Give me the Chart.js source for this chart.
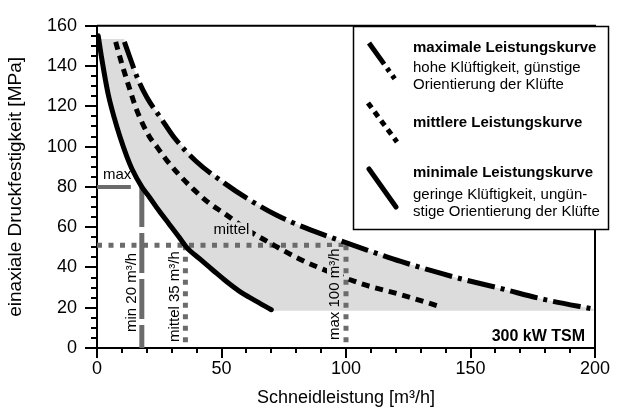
<!DOCTYPE html>
<html lang="de">
<head>
<meta charset="utf-8">
<title>Leistungskurven 300 kW TSM</title>
<script src="https://cdn.jsdelivr.net/npm/chart.js@4.4.1/dist/chart.umd.min.js"></script>
<style>
  body { margin: 0; background: #fff; }
</style>
</head>
<body>
<canvas id="leistung" width="624" height="416"></canvas>
<script>
// Schneidleistung [m³/h] (x) gegen einaxiale Druckfestigkeit [MPa] (y)
const maxRate = [11, 13, 16.6, 20, 26, 31, 40, 51, 60, 72, 84, 96, 110, 122, 134, 146, 162, 180, 200];
const maxStrength = [152, 145, 133, 124.5, 113.5, 104.5, 92.5, 82, 74.5, 66, 59.5, 54, 48, 43, 38.5, 34.4, 29.6, 24, 19.2];

const midRate = [7.5, 10, 12, 16, 21, 24, 27.5, 33, 39, 45, 51.5, 60, 69, 81.5, 95, 108, 122, 138];
const midStrength = [152, 141, 133, 118, 105, 100, 94, 86, 78.5, 72, 66.5, 59, 52.5, 44.1, 37, 31.2, 26.5, 20.5];

const minRate = [0.5, 2, 4.5, 7, 9.2, 12, 14, 18, 21, 25, 29, 33, 36, 41.4, 46.7, 52, 57.4, 62.8, 70];
const minStrength = [155, 143, 126, 114, 105, 95, 89, 80, 75, 68, 61.5, 55, 50, 44.1, 38.5, 33, 28, 24, 19];

const xTicks = [0, 50, 100, 150, 200];
const yTicks = [0, 20, 40, 60, 80, 100, 120, 140, 160];
const xMinorStep = 10;
const yMinorStep = 5;

// Hilfslinien
const strengthHigh = 80;     // "max"
const strengthMid = 51;      // "mittel"
const rateHigh = 18;         // min 20 m³/h
const rateMidMin = 35.5;     // mittel 35 m³/h
const rateMidMax = 100;      // max 100 m³/h
const highLineEnd = 13.6;

// grau hinterlegter Bereich
const shadeTop = 153.5;
const shadeBottom = 18.5;

const gray = '#6b6b6b';
const shade = '#dcdcdc';
const fontFam = '"Liberation Sans", Arial, sans-serif';

function pts(xs, ys) {
    return xs.map(function(x, i) { return { x: x, y: ys[i] }; });
}

var shadePts = [{ x: 0, y: shadeTop }]
    .concat(pts(minRate, minStrength).filter(function(p) { return p.y < shadeTop; }))
    .concat([{ x: minRate[minRate.length - 1], y: shadeBottom }, { x: 200, y: shadeBottom }])
    .concat(pts(maxRate, maxStrength).reverse())
    .concat([{ x: maxRate[0], y: shadeTop }]);

function guide(data, dash, width) {
    return {
        data: data, showLine: true, borderColor: gray, borderWidth: width || 5,
        borderDash: dash || [], borderCapStyle: 'butt', pointRadius: 0, order: 5
    };
}

function curve(xs, ys, dash) {
    return {
        data: pts(xs, ys), showLine: true, borderColor: '#000', borderWidth: 5,
        borderDash: dash, borderCapStyle: dash.length ? 'butt' : 'round',
        cubicInterpolationMode: 'monotone', pointRadius: 0, order: 1
    };
}

function vtext(ctx, str, px, py) {
    ctx.save();
    ctx.translate(px, py);
    ctx.rotate(-Math.PI / 2);
    ctx.textAlign = 'left';
    ctx.textBaseline = 'middle';
    ctx.fillText(str, 0, 0);
    ctx.restore();
}

function seg(ctx, x1, y1, x2, y2, dash, cap) {
    ctx.save();
    ctx.strokeStyle = '#000';
    ctx.lineWidth = 5;
    ctx.lineCap = cap || 'butt';
    ctx.setLineDash(dash);
    ctx.beginPath();
    ctx.moveTo(x1, y1);
    ctx.lineTo(x2, y2);
    ctx.stroke();
    ctx.restore();
}

const overlay = {
    id: 'overlay',
    afterDatasetsDraw: function(chart) {
        const ctx = chart.ctx;
        const x = chart.scales.x, y = chart.scales.y;
        ctx.save();
        ctx.font = '15px ' + fontFam;
        ctx.fillStyle = '#000';
        ctx.textAlign = 'left';
        ctx.textBaseline = 'alphabetic';
        ctx.fillText('max', x.getPixelForValue(0) + 6, y.getPixelForValue(strengthHigh) - 8);

        // "mittel" mit grauem Hintergrund
        const mx = x.getPixelForValue(54), my = y.getPixelForValue(strengthMid) - 11;
        const mw = ctx.measureText('mittel').width;
        ctx.fillStyle = shade;
        ctx.fillRect(mx - mw / 2 - 3, my - 12, mw + 6, 15);
        ctx.fillStyle = '#000';
        ctx.textAlign = 'center';
        ctx.fillText('mittel', mx, my);

        const y0 = y.getPixelForValue(0);
        vtext(ctx, 'min 20 m³/h', x.getPixelForValue(rateHigh) - 10, y0 - 16);
        vtext(ctx, 'mittel 35 m³/h', x.getPixelForValue(rateMidMin) - 11, y0 - 6);

        // "max 100 m³/h" verdeckt die Kurve
        const lx = x.getPixelForValue(rateMidMax) - 11, ly = y0 - 8;
        const lw = ctx.measureText('max 100 m³/h').width;
        const yb = y.getPixelForValue(shadeBottom);
        ctx.fillStyle = '#fff';
        ctx.fillRect(lx - 8, ly - lw - 1, 16, lw + 2);
        ctx.fillStyle = shade;
        ctx.fillRect(lx - 8, ly - lw - 1, 16, yb - (ly - lw - 1));
        ctx.fillStyle = '#000';
        vtext(ctx, 'max 100 m³/h', lx, ly);

        ctx.font = 'bold 16px ' + fontFam;
        ctx.textAlign = 'right';
        ctx.fillText('300 kW TSM', chart.chartArea.right - 10, chart.chartArea.bottom - 7);
        ctx.restore();
    },
    afterDraw: function(chart) {
        const ctx = chart.ctx;
        const a = chart.chartArea;
        const x = chart.scales.x, y = chart.scales.y;
        ctx.save();
        ctx.setLineDash([]);
        ctx.strokeStyle = '#000';
        ctx.lineWidth = 2;
        ctx.beginPath();
        ctx.moveTo(a.left, a.top);
        ctx.lineTo(a.right, a.top);
        ctx.lineTo(a.right, a.bottom);
        ctx.stroke();

        // Teilstriche: kurz (Zwischenwerte), lang (beschriftet)
        ctx.fillStyle = '#000';
        for (let v = 0; v <= 160; v += yMinorStep) {
            const py = Math.round(y.getPixelForValue(v));
            const len = yTicks.indexOf(v) >= 0 ? 12 : 6;
            ctx.fillRect(a.left - len, py - 1, len, 2);
        }
        for (let v = 0; v <= 200; v += xMinorStep) {
            const px = Math.round(x.getPixelForValue(v));
            const len = xTicks.indexOf(v) >= 0 ? 10 : 5;
            ctx.fillRect(px - 1, a.bottom, 2, len);
        }

        // Legende
        ctx.fillStyle = '#fff';
        ctx.fillRect(353, 26, 256, 204);
        ctx.lineWidth = 1.5;
        ctx.strokeRect(353.5, 26.5, 255, 203);

        seg(ctx, 369, 43, 397, 82, [26, 5, 4, 5, 4, 5]);
        seg(ctx, 368, 103, 397, 142, [6, 5]);
        seg(ctx, 369, 169, 396, 207, [], 'round');

        ctx.fillStyle = '#000';
        ctx.textAlign = 'left';
        ctx.textBaseline = 'alphabetic';
        ctx.font = 'bold 15px ' + fontFam;
        ctx.fillText('maximale Leistungskurve', 413, 52);
        ctx.fillText('mittlere Leistungskurve', 413, 127);
        ctx.fillText('minimale Leistungskurve', 413, 177);
        ctx.font = '15px ' + fontFam;
        ctx.fillText('hohe Klüftigkeit, günstige', 413, 72);
        ctx.fillText('Orientierung der Klüfte', 413, 89);
        ctx.fillText('geringe Klüftigkeit, ungün-', 413, 199);
        ctx.fillText('stige Orientierung der Klüfte', 413, 216);
        ctx.restore();
    }
};

const chart = new Chart(document.getElementById('leistung'), {
    type: 'scatter',
    data: {
        datasets: [
            curve(maxRate, maxStrength, [28, 6, 4, 6]),
            curve(midRate, midStrength, [8, 6]),
            curve(minRate, minStrength, []),
            guide([{ x: 0, y: strengthHigh }, { x: highLineEnd, y: strengthHigh }], [], 4),
            guide([{ x: rateHigh, y: strengthHigh }, { x: rateHigh, y: 0 }], [40, 6]),
            guide([{ x: 0, y: strengthMid }, { x: rateMidMax, y: strengthMid }], [5, 6.5]),
            guide([{ x: rateMidMin, y: strengthMid }, { x: rateMidMin, y: 0 }], [5, 6.5]),
            guide([{ x: rateMidMax, y: strengthMid }, { x: rateMidMax, y: 0 }], [5, 6.5]),
            {
                data: shadePts, showLine: true, fill: 'shape', backgroundColor: shade,
                borderColor: 'rgba(0,0,0,0)', borderWidth: 0, pointRadius: 0, order: 10
            }
        ]
    },
    options: {
        responsive: false,
        animation: false,
        layout: { padding: { top: 17, right: 29, left: 0, bottom: 0 } },
        plugins: { legend: { display: false }, tooltip: { enabled: false } },
        scales: {
            x: {
                type: 'linear', min: 0, max: 200,
                border: { color: '#000', width: 2 },
                grid: { drawOnChartArea: false, color: 'rgba(0,0,0,0)', tickLength: 4 },
                ticks: {
                    stepSize: 50, autoSkip: false, maxRotation: 0, padding: 6,
                    color: '#000', font: { size: 18, family: fontFam },
                    callback: function(v) { return xTicks.indexOf(v) >= 0 ? v : ''; }
                },
                title: {
                    display: true, text: 'Schneidleistung [m³/h]', color: '#000',
                    font: { size: 18, family: fontFam }, padding: { top: 7, bottom: 7 }
                },
                afterFit: function(s) { s.height = 68; }
            },
            y: {
                type: 'linear', min: 0, max: 160,
                border: { color: '#000', width: 2 },
                grid: { drawOnChartArea: false, color: 'rgba(0,0,0,0)', tickLength: 5 },
                ticks: {
                    stepSize: 20, autoSkip: false, padding: 15,
                    color: '#000', font: { size: 18, family: fontFam },
                    callback: function(v) { return yTicks.indexOf(v) >= 0 ? v : ''; }
                },
                title: {
                    display: true, text: 'einaxiale Druckfestigkeit [MPa]', color: '#000',
                    font: { size: 19, family: fontFam }, padding: { top: 4, bottom: 4 }
                },
                afterFit: function(s) { s.width = 97; }
            }
        }
    },
    plugins: [overlay]
});
</script>
</body>
</html>
